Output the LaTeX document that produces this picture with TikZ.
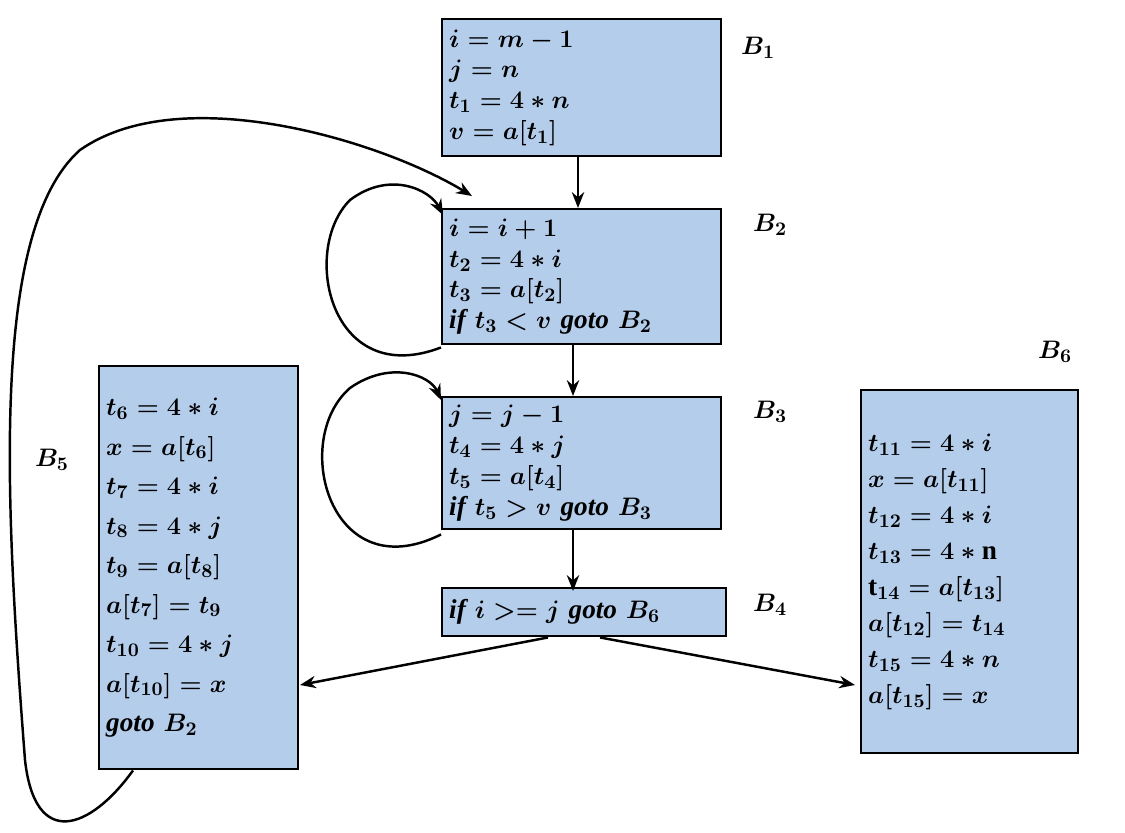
\documentclass[tikz,border=0pt]{standalone}
\usepackage{amsmath}
\usepackage{fontspec}
\setmainfont{Liberation Serif}
\usetikzlibrary{arrows.meta}
\definecolor{blockblue}{HTML}{B4CDEB}
\tikzset{
  block/.style={draw,line width=1.4pt,fill=blockblue,anchor=north west,align=left,
    inner sep=0pt,font=\fontsize{15.5}{17.5}\selectfont\bfseries\itshape},
  lbl/.style={font=\fontsize{15.5}{17.5}\selectfont\bfseries\itshape},
  edge/.style={line width=1.4pt,-{Stealth[length=9pt,width=7pt]}}
}
\begin{document}
\begin{tikzpicture}[x=0.02cm,y=-0.02cm]
  \useasboundingbox (0,0) rectangle (1125,832);

  \node[block,minimum width=279*0.02cm,minimum height=137*0.02cm,text width=265*0.02cm] (b1) at (441,18)
    {$\boldsymbol{i = m - 1}$\\$\boldsymbol{j = n}$\\$\boldsymbol{t_1 = 4 * n}$\\$\boldsymbol{v = a[t_1]}$};
  \node[block,minimum width=279*0.02cm,minimum height=135*0.02cm,text width=265*0.02cm] (b2) at (441,208)
    {$\boldsymbol{i = i + 1}$\\$\boldsymbol{t_2 = 4 * i}$\\$\boldsymbol{t_3 = a[t_2]}$\\if $\boldsymbol{t_3 < v}$ goto $\boldsymbol{B_2}$};
  \node[block,minimum width=279*0.02cm,minimum height=132*0.02cm,text width=265*0.02cm] (b3) at (441,396)
    {$\boldsymbol{j = j - 1}$\\$\boldsymbol{t_4 = 4 * j}$\\$\boldsymbol{t_5 = a[t_4]}$\\if $\boldsymbol{t_5 > v}$ goto $\boldsymbol{B_3}$};
  \node[block,minimum width=284*0.02cm,minimum height=48*0.02cm,text width=270*0.02cm] (b4) at (441,587)
    {if $\boldsymbol{i >= j}$ goto $\boldsymbol{B_6}$};
  \node[block,minimum width=199*0.02cm,minimum height=403*0.02cm,text width=185*0.02cm,
    font=\fontsize{15.5}{22.5}\selectfont\bfseries\itshape] (b5) at (98,365)
    {$\boldsymbol{t_6 = 4 * i}$\\$\boldsymbol{x = a[t_6]}$\\$\boldsymbol{t_7 = 4 * i}$\\$\boldsymbol{t_8 = 4 * j}$\\
     $\boldsymbol{t_9 = a[t_8]}$\\$\boldsymbol{a[t_7] = t_9}$\\$\boldsymbol{t_{10} = 4 * j}$\\$\boldsymbol{a[t_{10}] = x}$\\goto $\boldsymbol{B_2}$};
  \node[block,minimum width=217*0.02cm,minimum height=363*0.02cm,text width=203*0.02cm,
    font=\fontsize{15.5}{20.5}\selectfont\bfseries\itshape] (b6) at (860,389)
    {$\boldsymbol{t_{11} = 4 * i}$\\$\boldsymbol{x = a[t_{11}]}$\\$\boldsymbol{t_{12} = 4 * i}$\\$\boldsymbol{t_{13} = 4 * \mathrm{n}}$\\
     $\boldsymbol{\mathrm{t}_{14} = a[t_{13}]}$\\$\boldsymbol{a[t_{12}] = t_{14}}$\\$\boldsymbol{t_{15} = 4 * n}$\\$\boldsymbol{a[t_{15}] = x}$};

  \node[lbl] (l1) at (758,48) {$\boldsymbol{B_1}$};
  \node[lbl] (l2) at (770,225) {$\boldsymbol{B_2}$};
  \node[lbl] (l3) at (770,412) {$\boldsymbol{B_3}$};
  \node[lbl] (l4) at (770,605) {$\boldsymbol{B_4}$};
  \node[lbl] (l5) at (52,460) {$\boldsymbol{B_5}$};
  \node[lbl] (l6) at (1055,352) {$\boldsymbol{B_6}$};

  \draw[edge] (b1.south -| 578,0) -- (b2.north -| 578,0);
  \draw[edge] (b2.south -| 573,0) -- (b3.north -| 573,0);
  \draw[edge] (b3.south -| 573,0) -- ([yshift=-0.08cm]b4.north -| 573,0);
  \draw[edge] (b4.south -| 548,0) -- (300,685);
  \draw[edge] (b4.south -| 600,0) -- (855,685);

  % loops
  \draw[edge] ([yshift=-0.04cm]b2.south west) .. controls (330,390) and (300,250) .. (350,200)
    .. controls (390,170) and (430,190) .. (443,215);
  \draw[edge] ([yshift=-0.08cm]b3.south west) .. controls (330,590) and (290,440) .. (350,388)
    .. controls (390,360) and (430,375) .. (441,400);
  \draw[edge] ([xshift=0.7cm]b5.south west) .. controls (90,830) and (35,850) .. (25,760)
    .. controls (5,500) and (-10,230) .. (80,150)
    .. controls (180,80) and (380,140) .. (472,196);
\end{tikzpicture}
\end{document}
